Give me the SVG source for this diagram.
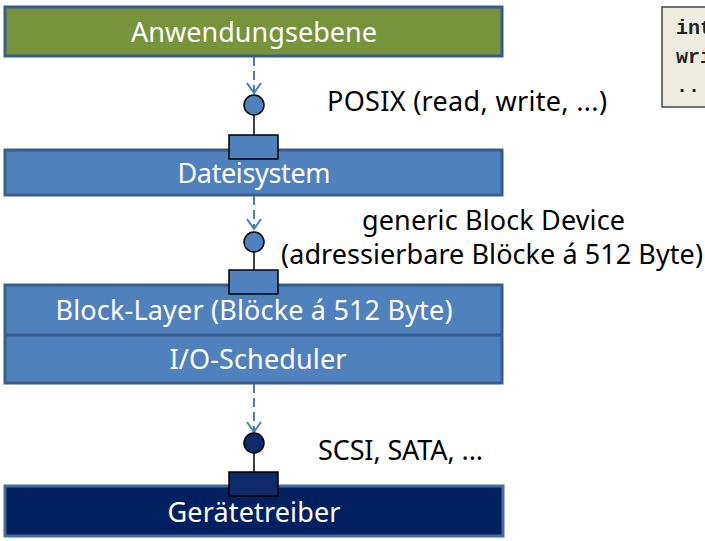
<svg xmlns="http://www.w3.org/2000/svg" width="705" height="541" viewBox="0 0 705 541">
<style>
.lbl{font-family:"Noto Sans","Liberation Sans",sans-serif;font-size:27px;}
.w{fill:#fff;}
.k{fill:#000;}
.box{stroke:#385D8A;stroke-width:3;}
.port{stroke:#000;stroke-width:1.5;}
.dash{stroke:#4A7EBB;stroke-width:2;stroke-dasharray:9,5;fill:none;}
.head{stroke:#4A7EBB;stroke-width:2;fill:none;}
.code{font-family:"Liberation Mono","DejaVu Sans Mono",monospace;font-size:20px;font-weight:bold;fill:#222;}
</style>
<rect x="0" y="0" width="705" height="541" fill="#fff"/>
<g id="code-box">
<rect x="662" y="7" width="50" height="100" fill="#EEECE1" stroke="#444" stroke-width="1.5"/>
<text class="code" x="676" y="34">int</text>
<text class="code" x="676" y="63">wri</text>
<text class="code" x="676" y="92">..</text>
</g>
<g id="connectors">
<line class="dash" x1="254" y1="57" x2="254" y2="92"/>
<polyline class="head" points="247,83 254,93 261,83"/>
<line class="port" x1="254" y1="115" x2="254" y2="135"/>
<line class="dash" x1="254" y1="196" x2="254" y2="228"/>
<polyline class="head" points="247,219 254,229 261,219"/>
<line class="port" x1="254" y1="252" x2="254" y2="270"/>
<line class="dash" x1="254" y1="384" x2="254" y2="431"/>
<polyline class="head" points="247,422 254,432 261,422"/>
<line class="port" x1="254" y1="453" x2="254" y2="472"/>
</g>
<g id="anwendungsebene">
<rect class="box" x="5" y="7" width="497" height="49" fill="#77933C"/>
<text class="lbl w" x="254" y="42" text-anchor="middle" textLength="246">Anwendungsebene</text>
</g>
<g id="posix-interface">
<circle cx="254" cy="105" r="10" fill="#4F81BD" stroke="#000" stroke-width="1.5"/>
<text class="lbl k" x="327" y="111" textLength="280">POSIX (read, write, ...)</text>
</g>
<g id="dateisystem">
<rect class="box" x="5" y="150" width="497" height="45" fill="#4F81BD"/>
<rect class="port" x="229" y="135" width="49" height="24" fill="#4F81BD"/>
<text class="lbl w" x="254" y="183" text-anchor="middle" textLength="153">Dateisystem</text>
</g>
<g id="block-interface">
<circle cx="254" cy="242" r="10" fill="#4F81BD" stroke="#000" stroke-width="1.5"/>
<text class="lbl k" x="362" y="230" textLength="263">generic Block Device</text>
<text class="lbl k" x="281" y="264" textLength="422">(adressierbare Blöcke á 512 Byte)</text>
</g>
<g id="block-layer">
<rect class="box" x="5" y="285" width="497" height="98" fill="#4F81BD"/>
<line x1="5" y1="335" x2="502" y2="335" stroke="#385D8A" stroke-width="3"/>
<rect class="port" x="229" y="270" width="49" height="24" fill="#4F81BD"/>
<text class="lbl w" x="254" y="320" text-anchor="middle" textLength="397">Block-Layer (Blöcke á 512 Byte)</text>
<text class="lbl w" x="258" y="369" text-anchor="middle" textLength="177">I/O-Scheduler</text>
</g>
<g id="driver-interface">
<circle cx="254" cy="443" r="10" fill="#0E2A6B" stroke="#000" stroke-width="1.5"/>
<text class="lbl k" x="318" y="460" textLength="165">SCSI, SATA, ...</text>
</g>
<g id="geraetetreiber">
<rect x="5" y="486" width="498" height="50" fill="#002060" stroke="#4A6A9A" stroke-width="3"/>
<rect class="port" x="229" y="472" width="49" height="24" fill="#0E2A6B"/>
<text class="lbl w" x="254" y="522" text-anchor="middle" textLength="173">Gerätetreiber</text>
</g>
</svg>
